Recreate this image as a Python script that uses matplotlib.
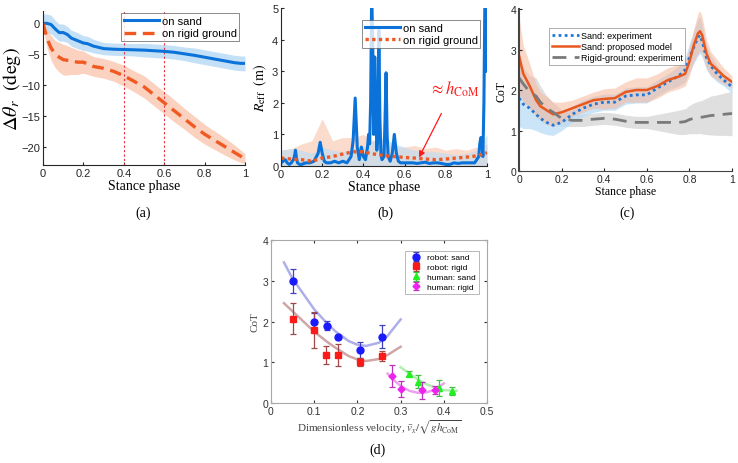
import matplotlib
matplotlib.use("Agg")
import matplotlib.pyplot as plt
import numpy as np

plt.rcParams["font.family"] = ["Liberation Sans", "DejaVu Sans"]
plt.rcParams["mathtext.fontset"] = "stix"
SERIF = ["Liberation Serif", "DejaVu Serif"]

BLUE = "#0a72d8"
ORANGE = "#f05a22"

# ── panel (a): change of leg angle ────────────────────────────────────────────
a_phase = [0, 0.02, 0.04, 0.06, 0.08, 0.1, 0.12, 0.14, 0.17, 0.2, 0.22, 0.25, 0.3, 0.35,
           0.4, 0.45, 0.5, 0.55, 0.6, 0.65, 0.7, 0.75, 0.8, 0.85, 0.9, 0.95, 0.98, 1.0]
a_sand = [0, 0, -0.2, -0.9, -1.5, -1.5, -1.8, -2.4, -2.8, -3.2, -3.3, -3.7, -4.1, -4.2,
          -4.25, -4.3, -4.35, -4.45, -4.55, -4.7, -4.95, -5.2, -5.5, -5.8, -6.1, -6.4, -6.5, -6.5]
a_sand_sd = [1.5, 1.5, 1.5, 1.4, 1.4, 1.4, 1.3, 1.3, 1.3, 1.2, 1.2, 1.1, 1.0, 1.0,
             1.0, 1.0, 1.1, 1.1, 1.1, 1.1, 1.1, 1.2, 1.2, 1.2, 1.2, 1.2, 1.2, 1.2]
a_rigid = [0, -2.5, -4.0, -5.0, -5.5, -5.9, -6.0, -6.1, -6.3, -6.3, -6.6, -7.0, -7.3, -7.8,
           -8.5, -9.4, -10.3, -11.6, -12.9, -14.2, -15.5, -16.8, -18.0, -19.0, -20.0, -21.0, -21.6, -22.0]
a_rigid_sd = [0.5, 1.5, 2.0, 2.2, 2.4, 2.5, 2.4, 2.2, 2.0, 1.8, 1.7, 1.6, 1.6, 1.6,
              1.7, 1.7, 1.8, 1.8, 1.8, 1.8, 1.7, 1.7, 1.6, 1.5, 1.4, 1.2, 1.0, 0.8]
a_marks = [0.4, 0.6]

# ── panel (b): effective radius ───────────────────────────────────────────────
b_phase = [0, 0.01, 0.02, 0.03, 0.04, 0.05, 0.06, 0.065, 0.07, 0.075, 0.08, 0.09, 0.10, 0.12,
           0.14, 0.16, 0.18, 0.19, 0.20, 0.21, 0.22, 0.24, 0.26, 0.28, 0.30, 0.32, 0.34, 0.35,
           0.36, 0.37, 0.38, 0.39, 0.40, 0.41, 0.42, 0.425, 0.43, 0.435, 0.44, 0.445, 0.45,
           0.455, 0.46, 0.465, 0.47, 0.475, 0.48, 0.485, 0.49, 0.50, 0.505, 0.51, 0.515, 0.52,
           0.53, 0.54, 0.55, 0.56, 0.57, 0.58, 0.60, 0.62, 0.64, 0.66, 0.68, 0.70, 0.72, 0.74,
           0.76, 0.78, 0.80, 0.82, 0.84, 0.86, 0.88, 0.90, 0.92, 0.94, 0.96, 0.965, 0.97, 0.975,
           0.98, 0.985, 0.99, 0.995, 1.0]
b_sand = [0.1, 0.15, 0.2, 0.1, 0.05, 0.1, 0.2, 0.3, 0.5, 0.25, 0.1, 0.05, 0.05, 0.1,
          0.1, 0.15, 0.4, 0.75, 0.4, 0.15, 0.1, 0.1, 0.15, 0.1, 0.15, 0.1, 0.3, 0.8,
          2.15, 0.6, 0.2, 0.6, 0.3, 0.2, 0.6, 1.0, 0.7, 2.0, 5.5, 4.0, 1.0,
          3.45, 2.0, 0.5, 1.0, 4.3, 1.5, 0.4, 0.2, 0.3, 1.5, 2.95, 1.0, 0.3,
          0.15, 0.4, 1.0, 0.4, 0.15, 0.1, 0.1, 0.1, 0.1, 0.08, 0.1, 0.12, 0.08, 0.1,
          0.1, 0.08, 0.05, 0.05, 0.1, 0.08, 0.1, 0.1, 0.1, 0.1, 0.3, 0.7, 0.9, 0.8,
          0.3, 2.0, 5.5, 5.5, 3.0]
b_grid = [0, 0.05, 0.1, 0.15, 0.2, 0.25, 0.3, 0.35, 0.4, 0.45, 0.5, 0.55, 0.6, 0.65,
          0.7, 0.75, 0.8, 0.85, 0.9, 0.95, 1.0]
b_sand_hi = [0.5, 0.55, 0.5, 0.4, 0.6, 0.5, 0.45, 0.55, 0.6, 0.8, 0.9, 0.7, 0.6, 0.5,
             0.45, 0.45, 0.4, 0.35, 0.4, 0.5, 1.0]
b_rigid = [0.25, 0.22, 0.2, 0.15, 0.25, 0.3, 0.38, 0.45, 0.45, 0.38, 0.33, 0.3, 0.27, 0.25,
           0.22, 0.2, 0.22, 0.25, 0.28, 0.32, 0.42]
b_rigid_hi = [0.5, 0.55, 0.7, 0.8, 1.5, 0.8, 0.9, 0.9, 1.0, 0.8, 0.7, 0.6, 0.6, 0.65,
              0.55, 0.6, 0.5, 0.55, 0.5, 0.6, 0.7]

# ── panel (c): CoT along stance ───────────────────────────────────────────────
c_phase = [0, 0.02, 0.05, 0.08, 0.1, 0.13, 0.16, 0.2, 0.25, 0.3, 0.35, 0.4, 0.45, 0.5, 0.55,
           0.6, 0.65, 0.7, 0.75, 0.78, 0.8, 0.82, 0.84, 0.85, 0.86, 0.88, 0.9, 0.93, 0.96, 1.0]
c_exp = [1.8, 1.65, 1.55, 1.4, 1.3, 1.2, 1.13, 1.2, 1.4, 1.55, 1.65, 1.7, 1.7, 1.85, 1.88,
         1.88, 2.05, 2.2, 2.35, 2.5, 2.8, 3.05, 3.3, 3.35, 3.2, 2.8, 2.6, 2.4, 2.25, 2.08]
c_exp_sd = [0.7, 0.6, 0.5, 0.4, 0.35, 0.3, 0.25, 0.2, 0.2, 0.2, 0.2, 0.2, 0.2, 0.2, 0.2,
            0.2, 0.2, 0.2, 0.25, 0.3, 0.35, 0.4, 0.45, 0.45, 0.4, 0.3, 0.25, 0.2, 0.15, 0.15]
c_model = [2.85, 2.4, 2.1, 1.75, 1.6, 1.5, 1.4, 1.45, 1.55, 1.65, 1.75, 1.78, 1.8, 1.95, 2.0,
           2.0, 2.1, 2.25, 2.33, 2.4, 2.7, 3.1, 3.4, 3.45, 3.35, 2.9, 2.65, 2.5, 2.35, 2.2]
c_model_sd = [0.95, 0.7, 0.55, 0.4, 0.35, 0.35, 0.3, 0.25, 0.2, 0.2, 0.2, 0.25, 0.25, 0.25, 0.3,
              0.3, 0.3, 0.3, 0.3, 0.3, 0.35, 0.4, 0.5, 0.5, 0.45, 0.35, 0.3, 0.25, 0.2, 0.15]
c_rigid = [2.3, 2.15, 1.95, 1.85, 1.7, 1.55, 1.45, 1.3, 1.25, 1.25, 1.28, 1.3, 1.28, 1.23, 1.2,
           1.2, 1.2, 1.2, 1.2, 1.22, 1.27, 1.3, 1.32, 1.33, 1.33, 1.35, 1.37, 1.38, 1.4, 1.42]
c_rigid_sd = [0.35, 0.4, 0.4, 0.45, 0.4, 0.3, 0.25, 0.2, 0.15, 0.15, 0.15, 0.15, 0.15, 0.15, 0.15,
              0.15, 0.2, 0.25, 0.3, 0.32, 0.35, 0.38, 0.4, 0.4, 0.42, 0.45, 0.48, 0.5, 0.52, 0.55]

# ── panel (d): CoT vs dimensionless velocity ──────────────────────────────────
rs_v = [0.05, 0.10, 0.13, 0.155, 0.205, 0.257]
rs_cot = [3.0, 2.0, 1.9, 1.62, 1.3, 1.63]
rs_err = [0.3, 0.22, 0.12, 0.05, 0.2, 0.28]
rr_v = [0.05, 0.10, 0.128, 0.155, 0.205, 0.257]
rr_cot = [2.07, 1.79, 1.18, 1.17, 1.0, 1.15]
rr_err = [0.38, 0.45, 0.22, 0.27, 0.1, 0.13]
hs_v = [0.32, 0.34, 0.39, 0.42]
hs_cot = [0.72, 0.52, 0.37, 0.29]
hs_err = [0.06, 0.16, 0.2, 0.1]
hr_v = [0.28, 0.30, 0.35, 0.38]
hr_cot = [0.66, 0.34, 0.31, 0.31]
hr_err = [0.27, 0.2, 0.2, 0.1]

fit_robot_v = [0.03, 0.05, 0.08, 0.1, 0.13, 0.15, 0.18, 0.2, 0.22, 0.25, 0.27, 0.3]
fit_rs = [3.45, 3.05, 2.6, 2.3, 1.95, 1.75, 1.52, 1.43, 1.4, 1.48, 1.65, 2.05]
fit_rr = [2.45, 2.25, 1.95, 1.75, 1.5, 1.35, 1.15, 1.07, 1.03, 1.08, 1.18, 1.38]
fit_hs_v = [0.30, 0.32, 0.34, 0.36, 0.38, 0.40, 0.42, 0.43]
fit_hs = [0.88, 0.72, 0.58, 0.46, 0.38, 0.32, 0.3, 0.3]
fit_hr_v = [0.27, 0.28, 0.30, 0.32, 0.34, 0.36, 0.38, 0.40]
fit_hr = [0.72, 0.6, 0.42, 0.3, 0.25, 0.26, 0.33, 0.48]

phase_ticks = [0, 0.2, 0.4, 0.6, 0.8, 1.0]
phase_labels = ["0", "0.2", "0.4", "0.6", "0.8", "1"]


def style(ax, spine_color="#262626"):
    for s in ("top", "right"):
        ax.spines[s].set_visible(False)
    for s in ("left", "bottom"):
        ax.spines[s].set_color(spine_color)
        ax.spines[s].set_linewidth(0.8)
    ax.tick_params(direction="in", length=2.5, labelsize=8, colors="#262626", pad=2)


fig = plt.figure(figsize=(7.38, 4.64), dpi=100)

# ── (a) ───────────────────────────────────────────────────────────────────────
ax1 = fig.add_axes([0.0583, 0.6422, 0.2737, 0.3319])
x = np.array(a_phase)
ax1.fill_between(x, np.array(a_sand) - a_sand_sd, np.array(a_sand) + a_sand_sd,
                 color="#b9dbf6", alpha=0.85, lw=0)
ax1.fill_between(x, np.array(a_rigid) - a_rigid_sd, np.array(a_rigid) + a_rigid_sd,
                 color="#f9c4aa", alpha=0.75, lw=0)
for m in a_marks:
    ax1.axvline(m, color="#e8323c", ls=(0, (2, 2)), lw=0.8)
ax1.plot(x, a_sand, color=BLUE, lw=2.2, label="on sand")
ax1.plot(x, a_rigid, color=ORANGE, lw=2.4, ls=(0, (3.5, 2)), label="on rigid ground")
ax1.set_xlim(0, 1)
ax1.set_ylim(-23, 2)
ax1.set_yticks([-20, -15, -10, -5, 0])
ax1.set_xticks(phase_ticks, phase_labels)
ax1.set_xlabel("Stance phase", family=SERIF, fontsize=10, labelpad=1)
ax1.set_ylabel(r"$\Delta\theta_r\ \ (\mathrm{deg})$", fontsize=14.5, labelpad=-1)
style(ax1)
leg = ax1.legend(loc="upper right", fontsize=8, frameon=True, fancybox=False,
                 borderpad=0.25, handlelength=3.2, handletextpad=0.2, labelspacing=0.2,
                 bbox_to_anchor=(1.0, 1.02))
leg.get_frame().set_edgecolor("#555555")
leg.get_frame().set_linewidth(0.6)

# ── (b) ───────────────────────────────────────────────────────────────────────
ax2 = fig.add_axes([0.3808, 0.6401, 0.2791, 0.3405])
ax2.fill_between(b_grid, 0, b_rigid_hi, color="#f9c4aa", alpha=0.6, lw=0)
ax2.fill_between(b_grid, 0, b_sand_hi, color="#b9dbf6", alpha=0.6, lw=0)
ax2.plot(b_phase, b_sand, color=BLUE, lw=2.2, label="on sand")
ax2.plot(b_grid, b_rigid, color=ORANGE, lw=2.4, ls=(0, (1, 1)), label="on rigid ground")
ax2.set_xlim(0, 1)
ax2.set_ylim(0, 5)
ax2.set_xticks(phase_ticks, phase_labels)
ax2.set_yticks([0, 1, 2, 3, 4, 5])
ax2.set_xlabel("Stance phase", family=SERIF, fontsize=10, labelpad=1)
ax2.set_ylabel(r"$R_{\mathrm{eff}}\ \ (\mathrm{m})$", fontsize=10, labelpad=2)
style(ax2)
leg = ax2.legend(loc="upper right", fontsize=8, frameon=True, fancybox=False,
                 borderpad=0.25, handlelength=3.2, handletextpad=0.2, labelspacing=0.2,
                 bbox_to_anchor=(0.995, 0.96))
leg.get_frame().set_edgecolor("#555555")
leg.get_frame().set_linewidth(0.6)
ax2.annotate(r"$\approx h_{\mathrm{CoM}}$", xy=(0.67, 0.27), xytext=(0.84, 2.45),
             color="#ff1a1a", fontsize=12, ha="center", va="center",
             arrowprops=dict(arrowstyle="-|>", color="#ff1a1a", lw=0.9,
                             shrinkA=10, shrinkB=0, mutation_scale=9))

# ── (c) ───────────────────────────────────────────────────────────────────────
ax3 = fig.add_axes([0.7033, 0.6293, 0.2886, 0.3491])
xc = np.array(c_phase)
ax3.fill_between(xc, np.array(c_rigid) - c_rigid_sd, np.array(c_rigid) + c_rigid_sd,
                 color="#d8d8d8", alpha=0.8, lw=0)
ax3.fill_between(xc, np.array(c_exp) - c_exp_sd, np.array(c_exp) + c_exp_sd,
                 color="#b9dbf6", alpha=0.75, lw=0)
ax3.fill_between(xc, np.array(c_model) - c_model_sd, np.array(c_model) + c_model_sd,
                 color="#f7b89c", alpha=0.55, lw=0)
ax3.plot(xc, c_exp, color="#1f78d6", lw=2.0, ls=(0, (1, 1.2)), label="Sand: experiment")
ax3.plot(xc, c_model, color="#e8581e", lw=1.8, label="Sand: proposed model")
ax3.plot(xc, c_rigid, color="#7a7a7a", lw=2.0, ls=(0, (5, 3)), label="Rigid-ground: experiment")
ax3.set_xlim(0, 1)
ax3.set_ylim(0, 4)
ax3.set_xticks(phase_ticks, phase_labels)
ax3.set_yticks([0, 1, 2, 3, 4])
ax3.set_xlabel("Stance phase", family=SERIF, fontsize=8.5, labelpad=1)
ax3.set_ylabel("CoT", family=SERIF, fontsize=8.5, labelpad=2)
style(ax3, spine_color="#444444")
ax3.spines["left"].set_linewidth(1.5)
ax3.tick_params(labelsize=7.5)
leg = ax3.legend(loc="upper left", fontsize=6.5, frameon=True, fancybox=False,
                 borderpad=0.3, handlelength=3.0, handletextpad=0.2, labelspacing=0.25,
                 bbox_to_anchor=(0.12, 0.91))
leg.get_frame().set_edgecolor("#888888")
leg.get_frame().set_linewidth(0.6)

# ── (d) ───────────────────────────────────────────────────────────────────────
ax4 = fig.add_axes([0.3672, 0.1293, 0.2927, 0.3513])
ax4.plot(fit_robot_v, fit_rs, color="#9a9ae6", lw=1.8, alpha=0.8)
ax4.plot(fit_robot_v, fit_rr, color="#c49090", lw=1.8, alpha=0.8)
ax4.plot(fit_hs_v, fit_hs, color="#9ee89e", lw=1.8, alpha=0.8)
ax4.plot(fit_hr_v, fit_hr, color="#e88ae8", lw=1.8, alpha=0.8)
ax4.errorbar(rs_v, rs_cot, yerr=rs_err, fmt="o", color="#1a1aff", ecolor="#4040c0",
             ms=5, capsize=2, elinewidth=0.9, capthick=0.9, label="robot: sand")
ax4.errorbar(rr_v, rr_cot, yerr=rr_err, fmt="s", color="#ff1a1a", ecolor="#a04848",
             ms=4, capsize=2, elinewidth=0.9, capthick=0.9, label="robot: rigid")
ax4.errorbar(hs_v, hs_cot, yerr=hs_err, fmt="^", color="#22ee22", ecolor="#40c040",
             ms=4.5, capsize=2, elinewidth=0.9, capthick=0.9, label="human: sand")
ax4.errorbar(hr_v, hr_cot, yerr=hr_err, fmt="D", color="#ee22ee", ecolor="#c030c0",
             ms=3.5, capsize=2, elinewidth=0.9, capthick=0.9, label="human: rigid")
ax4.set_xlim(0, 0.5)
ax4.set_ylim(0, 4)
ax4.set_xticks([0, 0.1, 0.2, 0.3, 0.4, 0.5], ["0", "0.1", "0.2", "0.3", "0.4", "0.5"])
ax4.set_yticks([0, 1, 2, 3, 4])
ax4.set_xlabel(r"Dimensionless velocity, $\bar{v}_x/\sqrt{g h_{\mathrm{CoM}}}$",
               family=SERIF, fontsize=8, labelpad=1, color="#444444")
ax4.set_ylabel("CoT", family=SERIF, fontsize=8, labelpad=2, color="#444444")
for s in ax4.spines.values():
    s.set_color("#a8a8a8")
    s.set_linewidth(0.8)
ax4.tick_params(direction="in", length=2.5, labelsize=7.5, colors="#333333", pad=2,
                top=True, right=True)
leg = ax4.legend(loc="upper right", fontsize=6, frameon=True, fancybox=False,
                 borderpad=0.35, handlelength=2.0, handletextpad=0.3, labelspacing=0.25,
                 bbox_to_anchor=(0.98, 0.96))
leg.get_frame().set_edgecolor("#999999")
leg.get_frame().set_linewidth(0.6)

# ── captions ──────────────────────────────────────────────────────────────────
for xpos, ypos, lab in [(0.194, 0.541, "(a)"), (0.522, 0.541, "(b)"),
                        (0.850, 0.541, "(c)"), (0.512, 0.030, "(d)")]:
    fig.text(xpos, ypos, lab, family=SERIF, fontsize=10, ha="center", va="center")

fig.savefig("out.png", dpi=100)
